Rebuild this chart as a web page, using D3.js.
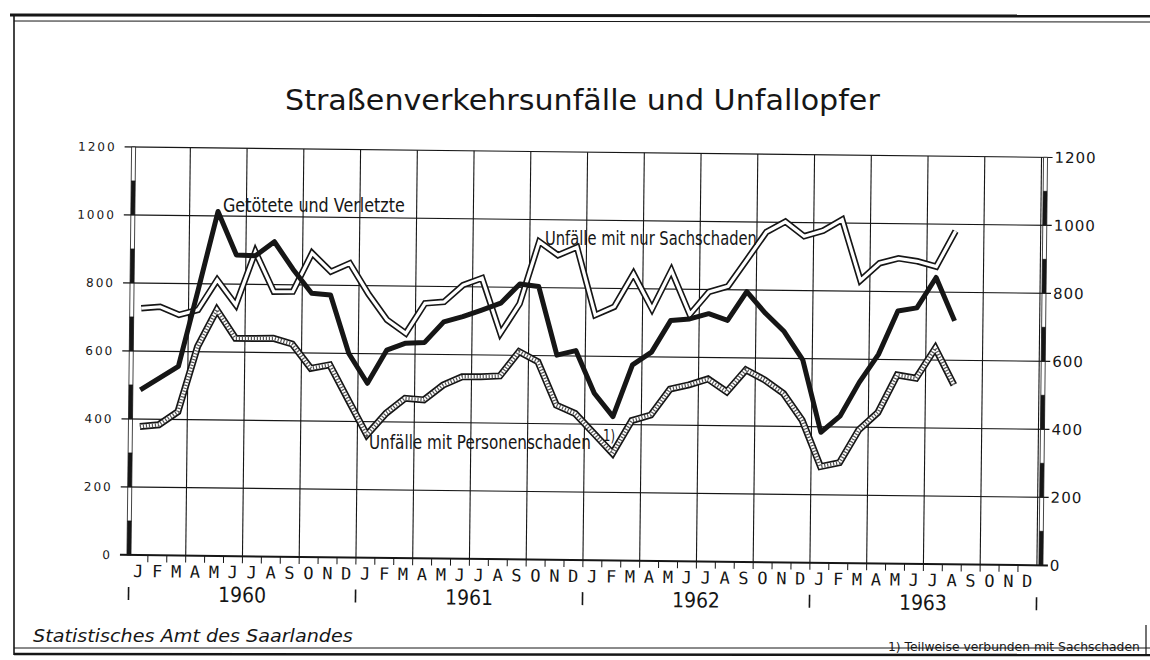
<!DOCTYPE html>
<html>
<head>
<meta charset="utf-8">
<script src="https://cdn.jsdelivr.net/npm/d3@7"></script>
<style>
  body { margin: 0; background: #fff; }
  svg { display: block; }
</style>
</head>
<body>
<svg id="chart" width="1150" height="660"></svg>
<script>
// monthly values Jan 1960 .. Aug 1963
const monthLetters = ["J", "F", "M", "A", "M", "J", "J", "A", "S", "O", "N", "D"];
const years = [1960, 1961, 1962, 1963];
const yTicks = [0, 200, 400, 600, 800, 1000, 1200];

const getoetete = [
  486, 521, 556, 782, 1013, 886, 884, 926, 846, 776, 771, 600,
  513, 611, 632, 635, 696, 712, 732, 753, 810, 803, 602, 616,
  491, 423, 576, 614, 708, 713, 729, 710, 795, 732, 679, 596,
  384, 432, 532, 615, 743, 753, 843, 716
];
const sachschaden = [
  726, 731, 708, 723, 812, 739, 896, 779, 780, 894, 840, 865,
  776, 700, 661, 750, 755, 805, 826, 664, 752, 935, 896, 920,
  721, 746, 844, 741, 855, 726, 793, 810, 890, 971, 1002, 960,
  977, 1010, 832, 883, 898, 890, 875, 980
];
const personenschaden = [
  378, 384, 423, 615, 724, 641, 641, 642, 626, 555, 566, 463,
  361, 425, 470, 466, 510, 535, 536, 539, 611, 582, 455, 431,
  373, 315, 412, 429, 506, 519, 537, 500, 565, 536, 497, 419,
  283, 295, 392, 444, 555, 546, 635, 528
];

const ink = "#161616";
const svg = d3.select("#chart");

// squeeze a text horizontally so it is w wide (the lettering is condensed)
function squeeze(parent, txt, x, y, w, size, extra) {
  const t = parent.append("text").attr("fill", ink)
    .style("font-family", "'DejaVu Sans', sans-serif")
    .style("font-size", size + "px").text(txt);
  if (extra) extra(t);
  const natural = t.node().getComputedTextLength();
  t.attr("transform", `translate(${x},${y}) scale(${w / natural},1)`);
  return t;
}

// frame of the sheet
svg.append("line").attr("x1", 10).attr("x2", 1150).attr("y1", 15).attr("y2", 16)
  .attr("stroke", ink).attr("stroke-width", 3);
svg.append("line").attr("x1", 14).attr("x2", 1150).attr("y1", 21).attr("y2", 22)
  .attr("stroke", ink).attr("stroke-width", 1);
svg.append("line").attr("x1", 14).attr("x2", 14).attr("y1", 15).attr("y2", 655)
  .attr("stroke", ink).attr("stroke-width", 1.6);
svg.append("line").attr("x1", 14).attr("x2", 1150).attr("y1", 648).attr("y2", 648)
  .attr("stroke", ink).attr("stroke-width", 1);
svg.append("line").attr("x1", 14).attr("x2", 1150).attr("y1", 654).attr("y2", 655)
  .attr("stroke", ink).attr("stroke-width", 2.5);
svg.append("line").attr("x1", 1146).attr("x2", 1146).attr("y1", 625).attr("y2", 655)
  .attr("stroke", ink).attr("stroke-width", 1.2);

squeeze(svg, "Straßenverkehrsunfälle und Unfallopfer", 285, 110, 595, 29,
  (t) => t.style("font-weight", "500"));

// the scan is a little turned, so the plot is too
const plotW = 908, plotH = 408;
const x = d3.scaleLinear().domain([0, 48]).range([0, plotW]);
const y = d3.scaleLinear().domain([0, 1200]).range([plotH, 0]);
const g = svg.append("g").attr("transform", "translate(133.6,147) rotate(0.65)");

// grid
g.selectAll(".hgrid").data(yTicks).join("line")
  .attr("x1", -9).attr("x2", plotW + 11)
  .attr("y1", (d) => y(d)).attr("y2", (d) => y(d))
  .attr("stroke", ink).attr("stroke-width", (d) => (d === 0 ? 2 : 1.1));
g.selectAll(".vgrid").data(d3.range(3, 49, 3)).join("line")
  .attr("x1", (d) => x(d)).attr("x2", (d) => x(d))
  .attr("y1", y(1200)).attr("y2", y(0))
  .attr("stroke", ink).attr("stroke-width", 1.1);

// scale bars left and right, alternate hundreds filled
[0, plotW + 4].forEach((bx) => {
  g.selectAll(null).data(d3.range(0, 1200, 100)).join("rect")
    .attr("x", bx - 2).attr("width", 4)
    .attr("y", (d) => y(d + 100)).attr("height", (d) => y(d) - y(d + 100))
    .attr("fill", (d) => ((d / 100) % 2 === 0 ? ink : "#fff"))
    .attr("stroke", ink).attr("stroke-width", 0.8);
});

// value labels
const fmt = d3.format("d");
const leftAxis = g.append("g")
  .call(d3.axisLeft(y).tickValues(yTicks).tickFormat(fmt).tickSize(0).tickPadding(17));
leftAxis.select(".domain").remove();
leftAxis.selectAll("text")
  .style("font-family", "'DejaVu Sans', sans-serif").style("font-size", "12px")
  .style("letter-spacing", "2px").attr("fill", ink);

const rightAxis = g.append("g").attr("transform", `translate(${plotW},0)`)
  .call(d3.axisRight(y).tickValues(yTicks).tickFormat(fmt).tickSize(0).tickPadding(13));
rightAxis.select(".domain").remove();
rightAxis.selectAll("text")
  .style("font-family", "'DejaVu Sans', sans-serif").style("font-size", "15px")
  .style("letter-spacing", "1px").attr("fill", ink);

// months and years
const months = d3.range(48);
g.selectAll(".mlab").data(months).join("text")
  .attr("x", (d) => x(d + 0.5)).attr("y", plotH + 22)
  .attr("text-anchor", "middle")
  .style("font-family", "'DejaVu Sans Mono', monospace").style("font-size", "17px")
  .attr("fill", ink)
  .text((d) => monthLetters[d % 12]);
g.selectAll(".mtick").data(d3.range(1, 48)).join("line")
  .attr("x1", (d) => x(d)).attr("x2", (d) => x(d))
  .attr("y1", plotH).attr("y2", plotH + 7)
  .attr("stroke", ink).attr("stroke-width", 1);
g.selectAll(".ytick").data(d3.range(0, 49, 12)).join("line")
  .attr("x1", (d) => x(d)).attr("x2", (d) => x(d))
  .attr("y1", plotH + 32).attr("y2", plotH + 45)
  .attr("stroke", ink).attr("stroke-width", 1.6);
years.forEach((yr, i) => squeeze(g, yr, x(i * 12 + 6) - 24, plotH + 46, 48, 21));

// series
const line = d3.line().x((d, i) => x(i + 0.5)).y((d) => y(d));

g.append("path").datum(personenschaden).attr("d", line)
  .attr("fill", "none").attr("stroke", ink).attr("stroke-width", 7);
g.append("path").datum(personenschaden).attr("d", line)
  .attr("fill", "none").attr("stroke", "#fff").attr("stroke-width", 3.6);
g.append("path").datum(personenschaden).attr("d", line)
  .attr("fill", "none").attr("stroke", "#555").attr("stroke-width", 3.6)
  .attr("stroke-dasharray", "1.2,1.8");

g.append("path").datum(sachschaden).attr("d", line)
  .attr("fill", "none").attr("stroke", ink).attr("stroke-width", 6.5);
g.append("path").datum(sachschaden).attr("d", line)
  .attr("fill", "none").attr("stroke", "#fff").attr("stroke-width", 3.2);

g.append("path").datum(getoetete).attr("d", line)
  .attr("fill", "none").attr("stroke", ink).attr("stroke-width", 5)
  .attr("stroke-linejoin", "round");

// series names
squeeze(svg, "Getötete und Verletzte", 223, 212, 182, 20);
squeeze(svg, "Unfälle mit nur Sachschaden", 545, 245, 212, 20);
squeeze(svg, "Unfälle mit Personenschaden", 369, 449, 222, 20);
squeeze(svg, "1)", 603, 441, 12, 16);

// footer
squeeze(svg, "Statistisches Amt des Saarlandes", 33, 642, 320, 17,
  (t) => t.style("font-style", "italic"));
squeeze(svg, "1) Teilweise verbunden mit Sachschaden", 888, 651, 252, 12);
</script>
</body>
</html>
